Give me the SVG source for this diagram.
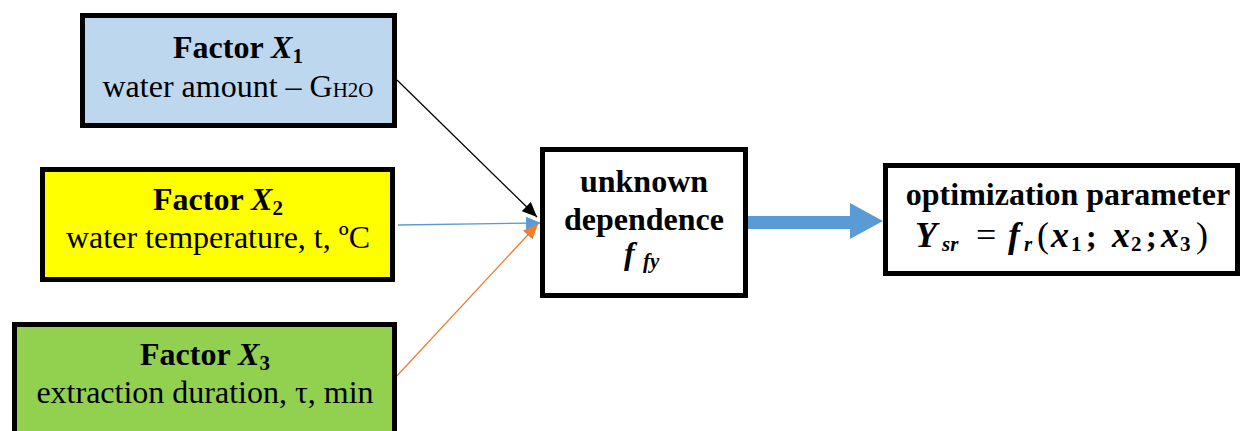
<svg xmlns="http://www.w3.org/2000/svg" width="1246" height="431" viewBox="0 0 1246 431">
<style>
.box{stroke:#000;stroke-width:5}
.b{font-family:"Liberation Serif","Times New Roman",serif;font-weight:bold;font-size:32px;fill:#000}
.r{font-family:"Liberation Serif","Times New Roman",serif;font-size:32px;fill:#000}
.m{font-style:italic;font-weight:bold}
.s{font-size:21px}
.n{font-weight:normal}
.big{font-size:36px}
</style>
<defs>
<marker id="hk" markerUnits="userSpaceOnUse" markerWidth="15" markerHeight="13" refX="15" refY="6.5" orient="auto"><path d="M0,0 L15,6.5 L0,13 z" fill="#000"/></marker>
<marker id="hb" markerUnits="userSpaceOnUse" markerWidth="15" markerHeight="13" refX="15" refY="6.5" orient="auto"><path d="M0,0 L15,6.5 L0,13 z" fill="#5B9BD5"/></marker>
<marker id="ho" markerUnits="userSpaceOnUse" markerWidth="15" markerHeight="13" refX="15" refY="6.5" orient="auto"><path d="M0,0 L15,6.5 L0,13 z" fill="#ED7D31"/></marker>
</defs>
<rect width="1246" height="431" fill="#fff"/>
<g id="connectors">
<line x1="397" y1="80" x2="537" y2="217" stroke="#000" stroke-width="1.3" marker-end="url(#hk)"/>
<line x1="398" y1="225" x2="541" y2="223" stroke="#5B9BD5" stroke-width="1.3" marker-end="url(#hb)"/>
<line x1="395" y1="378" x2="538" y2="224" stroke="#ED7D31" stroke-width="1.3" marker-end="url(#ho)"/>
<polygon points="747,216 850,216 850,203 883,221 850,239 850,229 747,229" fill="#5B9BD5"/>
</g>
<g id="factor1">
<rect class="box" x="82.5" y="15.5" width="312" height="110" fill="#BDD7EE"/>
<text class="b" x="238" y="58" text-anchor="middle">Factor <tspan class="m">X</tspan><tspan class="s" dy="5">1</tspan></text>
<text class="r" x="238" y="97" text-anchor="middle">water amount – G<tspan class="s">H2O</tspan></text>
</g>
<g id="factor2">
<rect class="box" x="42.5" y="169.5" width="350" height="110" fill="#FFFF00"/>
<text class="b" x="218" y="210" text-anchor="middle">Factor <tspan class="m">X</tspan><tspan class="s" dy="5">2</tspan></text>
<text class="r" x="218" y="248" text-anchor="middle">water temperature, t, ºC</text>
</g>
<g id="factor3">
<rect class="box" x="14.5" y="324.5" width="380" height="120" fill="#92D050"/>
<text class="b" x="205" y="365" text-anchor="middle">Factor <tspan class="m">X</tspan><tspan class="s" dy="5">3</tspan></text>
<text class="r" x="205" y="403" text-anchor="middle">extraction duration, τ, min</text>
</g>
<g id="dependence">
<rect class="box" x="542.5" y="149.5" width="203" height="146" fill="#fff"/>
<text class="b" x="644" y="192" text-anchor="middle">unknown</text>
<text class="b" x="644" y="230" text-anchor="middle">dependence</text>
<text class="b"><tspan class="m" x="624" y="264">f</tspan><tspan class="s m" x="643" y="268">fy</tspan></text>
</g>
<g id="optimization">
<rect class="box" x="885.5" y="165.5" width="352" height="108" fill="#fff"/>
<text class="b" x="1068" y="205" text-anchor="middle">optimization parameter</text>
<text class="b"><tspan class="m big" x="915" y="247">Y</tspan><tspan class="s m" x="942" y="251">sr</tspan><tspan class="n big" x="976" y="247">=</tspan><tspan class="m big" x="1008" y="247">f</tspan><tspan class="s m" x="1024" y="251">r</tspan><tspan class="n big" x="1037" y="247">(</tspan><tspan class="m big" x="1051" y="247">x</tspan><tspan class="s" x="1071" y="251">1</tspan><tspan x="1086" y="247">;</tspan><tspan class="m big" x="1112" y="247">x</tspan><tspan class="s" x="1131" y="251">2</tspan><tspan x="1146" y="247">;</tspan><tspan class="m big" x="1161" y="247">x</tspan><tspan class="s" x="1180" y="251">3</tspan><tspan class="n big" x="1196" y="247">)</tspan></text>
</g>
</svg>
